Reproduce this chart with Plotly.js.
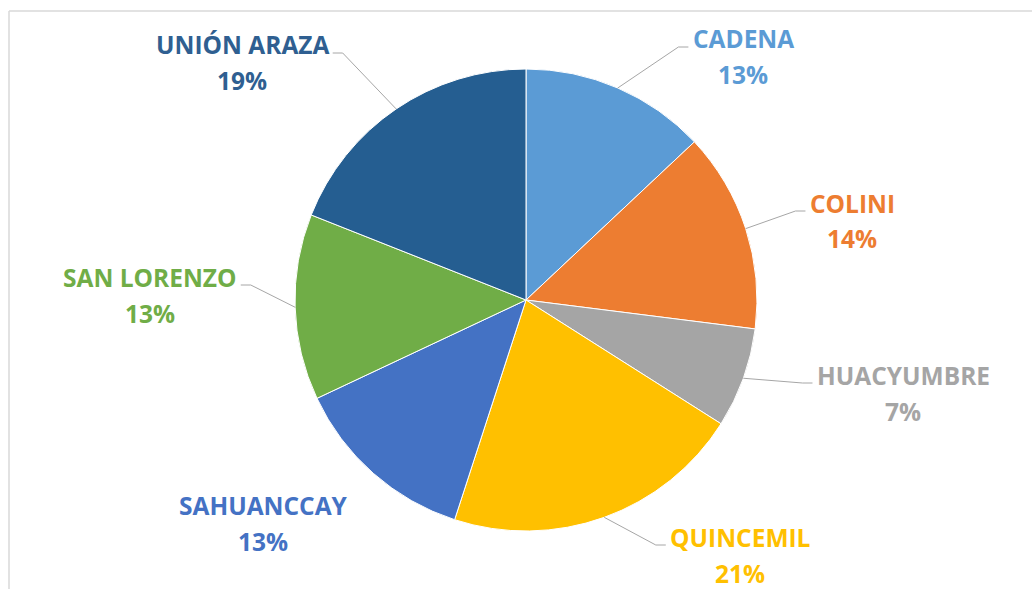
<!DOCTYPE html>
<html>
<head>
<meta charset="utf-8">
<script src="https://cdn.plot.ly/plotly-3.0.1.min.js"></script>
<style>html,body{margin:0;padding:0;background:#fff;}#chart{width:1032px;height:589px;}</style>
</head>
<body>
<div id="chart"></div>
<script>
// ---- data ----
const categories = ["CADENA", "COLINI", "HUACYUMBRE", "QUINCEMIL", "SAHUANCCAY", "SAN LORENZO", "UNIÓN ARAZA"];
const shares = [13, 14, 7, 21, 13, 13, 19];
const sliceColors = ["#5B9BD5", "#ED7D31", "#A5A5A5", "#FFC000", "#4472C4", "#70AD47", "#255E91"];
const labelColors = ["#5B9BD5", "#ED7D31", "#A5A5A5", "#FFC000", "#4472C4", "#70AD47", "#2F5F91"];

// ---- layout (pixels) ----
const W = 1032, H = 589;
const PIE_CX = 526, PIE_CY = 300, PIE_R = 231;
// label placement: centre of name line (x, y); side: which edge the leader joins; leader: whether drawn
const labelPlacement = [
  {x: 743, y: 39, side: "left", leader: true},
  {x: 852, y: 203, side: "left", leader: true},
  {x: 903, y: 375, side: "left", leader: true},
  {x: 740, y: 537, side: "left", leader: true},
  {x: 263, y: 505, side: "right", leader: false},
  {x: 150, y: 277, side: "right", leader: true},
  {x: 242, y: 45, side: "right", leader: true}
];
const LINE_GAP = 36;
const FONT_NAME = "Open Sans";
const FONT = "'Open Sans', Lato, sans-serif";
const FONT_SIZE = 24.5;

const px = x => x / W;
const py = y => 1 - y / H;

const ctx = document.createElement("canvas").getContext("2d");
ctx.font = "bold " + FONT_SIZE + "px '" + FONT_NAME + "'";

const total = shares.reduce((a, b) => a + b, 0);
const annotations = [];
const shapes = [];
let cum = 0;
categories.forEach((name, i) => {
  const mid = (cum + shares[i] / 2) / total * 2 * Math.PI;
  cum += shares[i];
  const lp = labelPlacement[i];
  const pct = Math.round(shares[i] / total * 100) + "%";
  annotations.push({xref: "paper", yref: "paper", x: px(lp.x), y: py(lp.y), xanchor: "center", yanchor: "middle",
    text: "<b>" + name + "</b>", showarrow: false, font: {family: FONT, size: FONT_SIZE, color: labelColors[i]}});
  annotations.push({xref: "paper", yref: "paper", x: px(lp.x), y: py(lp.y + LINE_GAP), xanchor: "center", yanchor: "middle",
    text: "<b>" + pct + "</b>", showarrow: false, font: {family: FONT, size: FONT_SIZE, color: labelColors[i]}});
  if (lp.leader) {
    const ex = PIE_CX + PIE_R * Math.sin(mid), ey = PIE_CY - PIE_R * Math.cos(mid);
    const w = ctx.measureText(name).width;
    const dir = lp.side === "left" ? -1 : 1;
    const endX = lp.x + dir * (w / 2 + 4), endY = lp.y + 8;
    const elbX = endX + dir * 10;
    shapes.push({type: "path", xref: "paper", yref: "paper",
      path: `M ${px(ex)} ${py(ey)} L ${px(elbX)} ${py(endY)} L ${px(endX)} ${py(endY)}`,
      line: {color: "#A6A6A6", width: 1}});
  }
});
// chart frame
shapes.push({type: "line", xref: "paper", yref: "paper", x0: px(9), y0: py(11), x1: 1, y1: py(11), line: {color: "#D9D9D9", width: 1.5}});
shapes.push({type: "line", xref: "paper", yref: "paper", x0: px(9), y0: py(11), x1: px(9), y1: 0, line: {color: "#D9D9D9", width: 1.5}});

const trace = {
  type: "pie",
  labels: categories,
  values: shares,
  sort: false,
  direction: "clockwise",
  rotation: 0,
  marker: {colors: sliceColors, line: {color: "#FFFFFF", width: 1}},
  textinfo: "none",
  hoverinfo: "label+percent",
  showlegend: false,
  domain: {x: [px(PIE_CX - PIE_R), px(PIE_CX + PIE_R)], y: [py(PIE_CY + PIE_R), py(PIE_CY - PIE_R)]}
};

Plotly.newPlot("chart", [trace], {
  width: W, height: H,
  margin: {l: 0, r: 0, t: 0, b: 0},
  paper_bgcolor: "#FFFFFF",
  showlegend: false,
  annotations: annotations,
  shapes: shapes
}, {displayModeBar: false, staticPlot: true});
</script>
</body>
</html>
